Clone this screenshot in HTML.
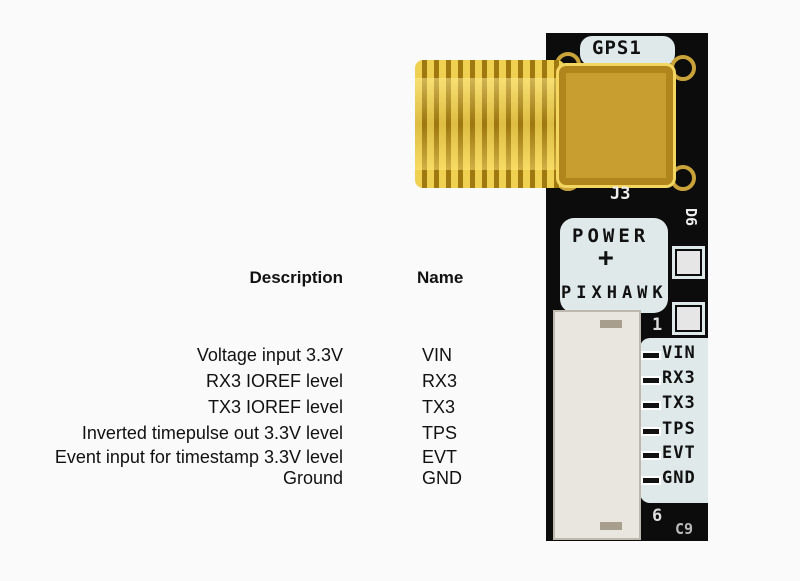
<!DOCTYPE html>
<html><head><style>
body{margin:0;width:800px;height:581px;background:#fafafa;position:relative;overflow:hidden;font-family:"Liberation Sans",sans-serif;}
.a{position:absolute}
.d{position:absolute;right:457px;font-size:18px;color:#111;white-space:nowrap}
.n{position:absolute;left:422px;font-size:18px;color:#111}
.pin{position:absolute;left:641px;width:20px;height:9px;border:2px solid #fff;box-sizing:border-box;background:#111}
.pl{position:absolute;left:662px;font:bold 17px "DejaVu Sans Mono",monospace;color:#111;letter-spacing:1px}
</style></head><body>
<div class="a" style="left:546px;top:33px;width:162px;height:508px;background:#0c0c0c"></div>
<div class="a" style="left:580px;top:36px;width:95px;height:30px;background:#dfe9e9;border-radius:12px"></div>
<div class="a" style="left:592px;top:37px;font:bold 19px 'DejaVu Sans Mono',monospace;color:#111;letter-spacing:1px">GPS1</div>
<div class="a" style="left:555px;top:52px;width:26px;height:26px;border-radius:50%;border:4px solid #c9a23a;box-sizing:border-box"></div>
<div class="a" style="left:670px;top:55px;width:26px;height:26px;border-radius:50%;border:4px solid #c9a23a;box-sizing:border-box"></div>
<div class="a" style="left:555px;top:165px;width:26px;height:26px;border-radius:50%;border:4px solid #c9a23a;box-sizing:border-box"></div>
<div class="a" style="left:670px;top:165px;width:26px;height:26px;border-radius:50%;border:4px solid #c9a23a;box-sizing:border-box"></div>
<div class="a" style="left:415px;top:60px;width:150px;height:128px;border-radius:8px;background:repeating-linear-gradient(90deg,#f0d050 0 7px,#a07810 7px 12px),#d8b030"></div>
<div class="a" style="left:415px;top:78px;width:150px;height:92px;background:linear-gradient(180deg,rgba(255,240,150,.5),rgba(150,110,10,.2),rgba(255,230,120,.5))"></div>
<div class="a" style="left:556px;top:63px;width:120px;height:125px;border-radius:10px;background:#b0861c;border:3px solid #f2d660;box-sizing:border-box"></div>
<div class="a" style="left:566px;top:73px;width:100px;height:105px;background:#c89e30"></div>
<div class="a" style="left:610px;top:184px;font:bold 17px 'DejaVu Sans Mono',monospace;color:#eee">J3</div>
<div class="a" style="left:682px;top:208px;font:bold 15px 'DejaVu Sans Mono',monospace;color:#eee;transform:rotate(90deg)">D6</div>
<div class="a" style="left:560px;top:218px;width:108px;height:95px;background:#dfe9e9;border-radius:14px"></div>
<div class="a" style="left:572px;top:225px;font:bold 19px 'DejaVu Sans Mono',monospace;color:#111;letter-spacing:4px">POWER</div>
<div class="a" style="left:598px;top:243px;font:bold 26px 'DejaVu Sans Mono',monospace;color:#111">+</div>
<div class="a" style="left:561px;top:283px;font:bold 17px 'DejaVu Sans Mono',monospace;color:#111;letter-spacing:5px">PIXHAWK</div>
<div class="a" style="left:672px;top:246px;width:33px;height:33px;background:#0c0c0c;border:3px solid #dfe9e9;box-sizing:border-box"></div>
<div class="a" style="left:677px;top:251px;width:23px;height:23px;background:#e6e6e6"></div>
<div class="a" style="left:672px;top:302px;width:33px;height:33px;background:#0c0c0c;border:3px solid #dfe9e9;box-sizing:border-box"></div>
<div class="a" style="left:677px;top:307px;width:23px;height:23px;background:#e6e6e6"></div>
<div class="a" style="left:652px;top:315px;font:bold 17px 'DejaVu Sans Mono',monospace;color:#ddd">1</div>
<div class="a" style="left:640px;top:338px;width:68px;height:165px;background:#dfe9e9;border-radius:10px 0 0 10px"></div>
<div class="pin" style="top:351px"></div><div class="pl" style="top:343px">VIN</div>
<div class="pin" style="top:376px"></div><div class="pl" style="top:368px">RX3</div>
<div class="pin" style="top:401px"></div><div class="pl" style="top:393px">TX3</div>
<div class="pin" style="top:427px"></div><div class="pl" style="top:419px">TPS</div>
<div class="pin" style="top:451px"></div><div class="pl" style="top:443px">EVT</div>
<div class="pin" style="top:476px"></div><div class="pl" style="top:468px">GND</div>
<div class="a" style="left:652px;top:506px;font:bold 17px 'DejaVu Sans Mono',monospace;color:#ddd">6</div>
<div class="a" style="left:675px;top:520px;font:bold 15px 'DejaVu Sans Mono',monospace;color:#bbb">C9</div>
<div class="a" style="left:553px;top:310px;width:88px;height:230px;background:#e9e5df;border:2px solid #bdb7ad;box-sizing:border-box"></div>
<div class="a" style="left:600px;top:320px;width:22px;height:8px;background:#a89e8e"></div>
<div class="a" style="left:600px;top:522px;width:22px;height:8px;background:#a89e8e"></div>
<div class="d" style="top:268px;font-weight:bold;font-size:17px">Description</div>
<div class="n" style="top:268px;left:417px;font-weight:bold;font-size:17px">Name</div>
<div class="d" style="top:345px">Voltage input 3.3V</div><div class="n" style="top:345px">VIN</div>
<div class="d" style="top:371px">RX3 IOREF level</div><div class="n" style="top:371px">RX3</div>
<div class="d" style="top:397px">TX3 IOREF level</div><div class="n" style="top:397px">TX3</div>
<div class="d" style="top:423px">Inverted timepulse out 3.3V level</div><div class="n" style="top:423px">TPS</div>
<div class="d" style="top:447px">Event input for timestamp 3.3V level</div><div class="n" style="top:447px">EVT</div>
<div class="d" style="top:468px">Ground</div><div class="n" style="top:468px">GND</div>
</body></html>
